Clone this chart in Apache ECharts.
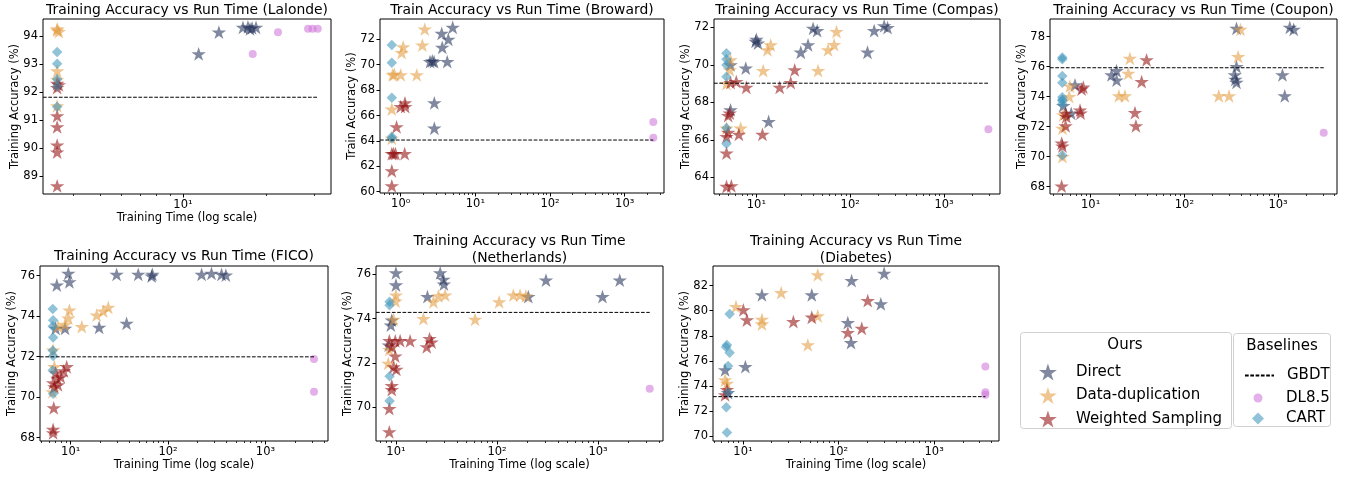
<!DOCTYPE html>
<html><head><meta charset="utf-8">
<script src="https://cdn.jsdelivr.net/npm/echarts@6/dist/echarts.min.js"></script>
<style>html,body{margin:0;padding:0;background:#fff}#c{width:1353px;height:478px}</style>
</head><body><div id="c"></div><script>
// ---------------- data ----------------
const lalondeDirect = [[11.4,93.36],[13.5,94.13],[16.5,94.3],[17.2,94.32],[17.8,94.28],[18.4,94.3],[17.5,94.25]];
const lalondeDup = [[3.5,94.25],[3.5,94.2],[3.55,94.15],[3.5,92.75],[3.5,92.45],[3.5,91.5]];
const lalondeWeighted = [[3.5,92.3],[3.55,92.25],[3.5,92.15],[3.5,91.15],[3.5,90.75],[3.5,90.1],[3.5,89.85],[3.5,88.65]];
const lalondeCart = [[3.5,93.42],[3.5,93.0],[3.5,92.45],[3.5,92.2],[3.5,91.47]];
const lalondeDl85 = [[22.1,94.13],[17.9,93.35],[28.4,94.25],[29.5,94.25],[30.8,94.25]];
const lalondeGbdt = 91.81;

const browardDirect = [[4.97,72.95],[3.54,72.47],[4.34,72.0],[3.6,71.37],[2.47,70.24],[2.8,70.24],[2.65,70.3],[4.2,70.24],[2.82,67.0],[2.82,65.0]];
const browardDup = [[2.1,72.8],[1.95,71.55],[1.08,71.4],[1.03,70.95],[0.78,69.2],[0.82,69.25],[1.0,69.2],[1.64,69.2],[0.76,66.5],[0.76,64.2]];
const browardWeighted = [[1.14,67.0],[1.0,66.7],[1.15,66.7],[0.88,65.1],[0.76,63.0],[0.8,63.0],[0.85,63.0],[1.13,63.0],[0.76,61.65],[0.76,60.46]];
const browardCart = [[0.76,71.55],[0.76,70.16],[0.76,67.4],[0.76,64.33],[0.76,64.2]];
const browardDl85 = [[2415,65.5],[2415,64.25]];
const browardGbdt = 64.07;

const compasDirect = [[10,71.36],[10.4,71.15],[9.8,71.25],[7.7,69.82],[5.3,70.0],[5.3,67.6],[13.5,66.98],[29.7,70.67],[35.5,71.06],[40.2,71.94],[44.4,71.82],[152.8,70.67],[180,71.82],[230,72.07],[250,71.98]];
const compasDup = [[5.3,70.26],[5.2,69.73],[4.8,69.0],[6.8,66.63],[4.8,66.63],[11.8,69.69],[14.2,71.06],[13.1,70.8],[45.4,69.69],[58,70.8],[67.3,71.07],[71.4,71.77]];
const compasWeighted = [[5.2,67.43],[5.0,67.3],[4.8,66.18],[5.0,66.4],[6.5,66.3],[11.6,66.3],[4.8,65.3],[4.8,63.52],[5.4,63.55],[6.1,69.1],[7.8,68.8],[17.7,68.8],[23.2,69.05],[25.6,69.73],[5.3,69.05]];
const compasCart = [[4.79,70.62],[4.79,70.3],[4.79,69.99],[4.79,69.37],[4.79,66.63],[4.79,65.79]];
const compasDl85 = [[2970,66.57]];
const compasGbdt = 69.02;

const couponDirect = [[360,78.56],[1334,78.62],[1469,78.49],[360,76.0],[345,75.45],[350,75.16],[360,74.96],[1114,75.45],[1178,74.05],[18.9,75.73],[16.7,75.45],[18.9,75.1],[6.8,74.78],[6.2,72.89],[5.1,73.4]];
const couponDup = [[397,78.49],[375,76.67],[26.2,76.56],[25.2,75.56],[20.0,74.05],[23.2,74.05],[233,74.05],[300,74.05],[6.0,74.71],[5.9,74.0],[5.1,72.78],[5.0,71.89],[5.0,70.0]];
const couponWeighted = [[8.34,74.63],[8.0,74.5],[5.4,72.89],[5.5,72.67],[7.7,73.1],[7.8,72.9],[5.4,72.05],[4.9,70.9],[5.0,70.7],[4.9,68.04],[29.7,72.93],[30.4,72.05],[35,75.0],[39.5,76.45]];
const couponCart = [[4.98,76.62],[4.98,76.5],[4.98,75.38],[4.98,74.93],[4.98,73.96],[4.98,73.8],[4.98,73.73],[4.98,73.51],[4.98,70.09]];
const couponDl85 = [[3070,71.6]];
const couponGbdt = 75.93;

const ficoDirect = [[9.45,76.12],[9.7,75.7],[7.2,75.54],[29.6,76.07],[49.4,76.07],[67.8,75.98],[69,76.07],[221,76.07],[279,76.12],[354,76.07],[392,76.03],[19.6,73.45],[37.5,73.64],[8.75,73.4],[7.0,73.4]];
const ficoDup = [[24.3,74.43],[21.6,74.25],[18.5,74.05],[9.7,74.3],[9.45,73.9],[8.75,73.6],[7.4,73.5],[13,73.48],[6.6,72.32],[6.8,71.5],[6.5,70.26]];
const ficoWeighted = [[9.1,71.5],[8.5,71.3],[7.9,71.0],[7.3,70.92],[6.6,70.7],[7.4,70.6],[6.8,70.5],[7.0,71.2],[6.7,69.47],[6.6,68.4],[6.6,68.23]];
const ficoCart = [[6.54,74.35],[6.6,73.8],[6.54,73.5],[6.6,72.95],[6.54,72.3],[6.6,72.03],[6.54,71.33],[6.6,70.17]];
const ficoDl85 = [[3150,71.88],[3150,70.26]];
const ficoGbdt = 71.99;

const nethDirect = [[10,76.07],[10,75.52],[8.9,73.7],[9.1,73.93],[8.5,72.8],[27.4,76.07],[29.5,75.77],[29.8,75.56],[20.5,74.99],[204,74.99],[305,75.74],[1105,74.99],[1637,75.74]];
const nethDup = [[10,75.06],[9.9,74.79],[9.5,73.96],[18.7,74.0],[23.5,74.76],[26.3,75.03],[30.7,75.06],[60.7,73.96],[105,74.76],[145,75.06],[169,75.06],[193,75.03],[8.4,71.97],[8.6,72.6]];
const nethWeighted = [[8.6,68.87],[8.6,69.93],[9.1,70.79],[9.1,70.97],[9.5,71.81],[10.1,71.7],[9.85,72.3],[9.1,72.72],[9.85,72.99],[11.0,73.0],[13.8,72.99],[20.2,72.72],[21.5,73.09],[22.5,72.94],[8.6,73.0]];
const nethCart = [[8.65,74.76],[8.65,74.6],[8.65,71.39],[8.65,70.27]];
const nethDl85 = [[3240,70.82]];
const nethGbdt = 74.28;

const diabDirect = [[300,82.99],[137,82.4],[15.8,81.26],[52.5,81.26],[277,80.54],[125,79.05],[135,77.45],[10.6,75.54],[6.5,75.27],[6.97,73.46]];
const diabDup = [[60.6,82.86],[25.1,81.44],[8.45,80.32],[15.8,79.31],[15.8,78.94],[60.6,79.58],[47.7,77.27],[6.5,74.47],[6.8,74.2]];
const diabWeighted = [[10.1,80.06],[11.0,79.26],[33.7,79.13],[52.5,79.48],[202,80.8],[175,78.6],[125,78.25],[6.5,73.28],[6.8,73.7]];
const diabCart = [[7.25,79.74],[6.8,77.27],[6.65,77.1],[7.25,76.65],[7.0,75.59],[7.0,73.46],[6.7,72.3],[6.8,70.27]];
const diabDl85 = [[3436,75.54],[3436,73.5],[3436,73.3]];
const diabGbdt = 73.14;

// tick values
const X_MAJOR = [1, 10, 100, 1000];
const X_MINOR = [0.6,0.7,0.8,0.9,2,3,4,5,6,7,8,9,20,30,40,50,60,70,80,90,200,300,400,500,600,700,800,900,2000,3000,4000];
const lalondeYTicks = [89, 90, 91, 92, 93, 94];
const browardYTicks = [60, 62, 64, 66, 68, 70, 72];
const compasYTicks = [64, 66, 68, 70, 72];
const couponYTicks = [68, 70, 72, 74, 76, 78];
const ficoYTicks = [68, 70, 72, 74, 76];
const nethYTicks = [70, 72, 74, 76];
const diabYTicks = [70, 72, 74, 76, 78, 80, 82];

// ---------------- layout / style ----------------
const FONT = 'DejaVu Sans';
const COLORS = {
  direct: 'rgba(36,50,90,0.72)',
  dup: 'rgba(228,156,64,0.72)',
  weighted: 'rgba(146,14,14,0.72)',
  cart: 'rgba(63,150,187,0.72)',
  dl85: 'rgba(208,124,219,0.75)'
};
const STAR = 'path://M0,-1 L0.2245,-0.309 L0.951,-0.309 L0.3633,0.118 L0.5878,0.809 L0,0.382 L-0.5878,0.809 L-0.3633,0.118 L-0.951,-0.309 L-0.2245,-0.309 Z';

const panels = [
  {title:'Training Accuracy vs Run Time (Lalonde)', ylab:'Training Accuracy (%)', xlab:true, rect:[43,19,288,175], tY:10,
   xr:[3.11,34.4], yr:[88.36,94.6], yt:lalondeYTicks, d:[lalondeDirect,lalondeDup,lalondeWeighted,lalondeCart,lalondeDl85], g:lalondeGbdt, gx:30.8},
  {title:'Train Accuracy vs Run Time (Broward)', ylab:'Train Accuracy (%)', xlab:false, rect:[380,19,284,174], tY:10,
   xr:[0.528,3360], yr:[59.9,73.6], yt:browardYTicks, d:[browardDirect,browardDup,browardWeighted,browardCart,browardDl85], g:browardGbdt, gx:2415},
  {title:'Training Accuracy vs Run Time (Compas)', ylab:'Training Accuracy (%)', xlab:false, rect:[714,19,286,175], tY:10,
   xr:[3.53,3950], yr:[63.12,72.44], yt:compasYTicks, d:[compasDirect,compasDup,compasWeighted,compasCart,compasDl85], g:compasGbdt, gx:2970},
  {title:'Training Accuracy vs Run Time (Coupon)', ylab:'Training Accuracy (%)', xlab:false, rect:[1050,19,287,175], tY:10,
   xr:[3.68,4255], yr:[67.51,79.18], yt:couponYTicks, d:[couponDirect,couponDup,couponWeighted,couponCart,couponDl85], g:couponGbdt, gx:3070},
  {title:'Training Accuracy vs Run Time (FICO)', ylab:'Training Accuracy (%)', xlab:true, rect:[40,266,288,175], tY:256.7,
   xr:[4.84,4385], yr:[67.83,76.48], yt:ficoYTicks, d:[ficoDirect,ficoDup,ficoWeighted,ficoCart,ficoDl85], g:ficoGbdt, gx:3150},
  {title:'Training Accuracy vs Run Time\n(Netherlands)', ylab:'Training Accuracy (%)', xlab:true, rect:[376,266,287,175], tY:250,
   xr:[6.35,4385], yr:[68.46,76.38], yt:nethYTicks, d:[nethDirect,nethDup,nethWeighted,nethCart,nethDl85], g:nethGbdt, gx:3240},
  {title:'Training Accuracy vs Run Time\n(Diabetes)', ylab:'Training Accuracy (%)', xlab:true, rect:[713,266,286,175], tY:250,
   xr:[4.86,4770], yr:[69.6,83.57], yt:diabYTicks, d:[diabDirect,diabDup,diabWeighted,diabCart,diabDl85], g:diabGbdt, gx:3436}
];

const SUP = {'0':'⁰','1':'¹','2':'²','3':'³','4':'⁴','-':'⁻'};
function logLabel(v) {
  const e = String(Math.round(Math.log10(v)));
  return '10' + e.split('').map(c => SUP[c]).join('');
}

const grids = [], xAxes = [], yAxes = [], series = [], graphics = [];
panels.forEach((p, i) => {
  const [l, t, w, h] = p.rect;
  grids.push({left:l, top:t, width:w, height:h, show:true, borderColor:'#000', borderWidth:1, backgroundColor:'transparent', containLabel:false});
  const inR = v => v >= p.xr[0] && v <= p.xr[1];
  const majors = X_MAJOR.filter(inR), minors = X_MINOR.filter(inR);
  xAxes.push({
    type:'log', gridIndex:i, min:p.xr[0], max:p.xr[1], position:'bottom',
    axisLine:{show:false}, splitLine:{show:false}, minorTick:{show:false},
    axisTick:{show:true, customValues:majors, length:3.5, lineStyle:{color:'#000', width:1}},
    axisLabel:{show:true, customValues:majors, formatter:logLabel, fontSize:11.5, color:'#000', margin:5, fontFamily:FONT},
    name: p.xlab ? 'Training Time (log scale)' : '', nameLocation:'middle', nameGap:17,
    nameTextStyle:{fontSize:11.5, color:'#000', fontFamily:FONT, verticalAlign:'top'}
  });
  xAxes.push({
    type:'log', gridIndex:i, min:p.xr[0], max:p.xr[1], position:'bottom',
    axisLine:{show:false}, splitLine:{show:false}, axisLabel:{show:false},
    axisTick:{show:true, customValues:minors, length:2, lineStyle:{color:'#000', width:0.8}}
  });
  yAxes.push({
    type:'value', gridIndex:i, min:p.yr[0], max:p.yr[1],
    axisLine:{show:false}, splitLine:{show:false},
    axisTick:{show:true, customValues:p.yt, length:3.5, lineStyle:{color:'#000', width:1}},
    axisLabel:{customValues:p.yt, fontSize:11.5, color:'#000', margin:5, fontFamily:FONT},
    name:p.ylab, nameLocation:'middle', nameGap:22, nameMoveOverlap:false,
    nameTextStyle:{fontSize:11.5, color:'#000', fontFamily:FONT}
  });
  const xi = 2 * i;
  const sc = (name, data, symbol, size, color) => ({
    type:'scatter', name, xAxisIndex:xi, yAxisIndex:i, data, symbol, symbolSize:size,
    itemStyle:{color}, emphasis:{disabled:true}
  });
  series.push(sc('Direct', p.d[0], STAR, [14.5,13.8], COLORS.direct));
  series.push(sc('Data-duplication', p.d[1], STAR, [14.5,13.8], COLORS.dup));
  series.push(sc('Weighted Sampling', p.d[2], STAR, [14.5,13.8], COLORS.weighted));
  series.push({type:'line', name:'GBDT', xAxisIndex:xi, yAxisIndex:i, data:[[p.xr[0], p.g],[p.gx, p.g]],
    symbol:'none', showSymbol:false, color:'#000', itemStyle:{color:'#000'},
    lineStyle:{color:'#000', width:1, type:[3.7,1.6]}, z:3, emphasis:{disabled:true}});
  series.push(sc('DL8.5', p.d[4], 'circle', 8, COLORS.dl85));
  series.push(sc('CART', p.d[3], 'diamond', [10.5,10.5], COLORS.cart));
  graphics.push({type:'text', x:l + w / 2, y:p.tY, style:{text:p.title, fontSize:13.9, fontFamily:FONT, fill:'#000', align:'center', verticalAlign:'middle', lineHeight:16.5}});
});

// legend boxes and titles
graphics.push({type:'rect', shape:{x:1020.5, y:332.5, width:211, height:96, r:3}, style:{fill:'rgba(255,255,255,0.8)', stroke:'#d0d0d0', lineWidth:1}, z:-1});
graphics.push({type:'rect', shape:{x:1233.5, y:333.5, width:97, height:93, r:3}, style:{fill:'rgba(255,255,255,0.8)', stroke:'#d0d0d0', lineWidth:1}, z:-1});
graphics.push({type:'text', x:1125, y:345, style:{text:'Ours', fontSize:15, fontFamily:FONT, fill:'#000', align:'center', verticalAlign:'middle'}});
graphics.push({type:'text', x:1282, y:346, style:{text:'Baselines', fontSize:15, fontFamily:FONT, fill:'#000', align:'center', verticalAlign:'middle'}});

const legTxt = pad => ({fontSize:15, color:'#000', fontFamily:FONT, padding:[0,0,0,pad]});
const legends = [
  {orient:'vertical', left:1034, top:358.5, itemWidth:18, itemHeight:17, itemGap:6.5, selectedMode:false,
   data:[{name:'Direct', icon:STAR},{name:'Data-duplication', icon:STAR},{name:'Weighted Sampling', icon:STAR}], textStyle:legTxt(14)},
  {orient:'vertical', left:1239, top:363, itemWidth:29, itemHeight:10, selectedMode:false,
   data:[{name:'GBDT', itemStyle:{opacity:0}}], textStyle:legTxt(8)},
  {orient:'vertical', left:1248.5, top:385.5, itemWidth:9, itemHeight:9, selectedMode:false, data:[{name:'DL8.5', icon:'circle'}], textStyle:legTxt(18.5)},
  {orient:'vertical', left:1247, top:406, itemWidth:12, itemHeight:12, selectedMode:false, data:[{name:'CART', icon:'diamond'}], textStyle:legTxt(17)}
];

const chart = echarts.init(document.getElementById('c'), null, {renderer:'canvas'});
chart.setOption({
  animation:false,
  backgroundColor:'#fff',
  textStyle:{fontFamily:FONT},
  grid:grids, xAxis:xAxes, yAxis:yAxes, series, legend:legends, graphic:graphics
});
</script></body></html>
